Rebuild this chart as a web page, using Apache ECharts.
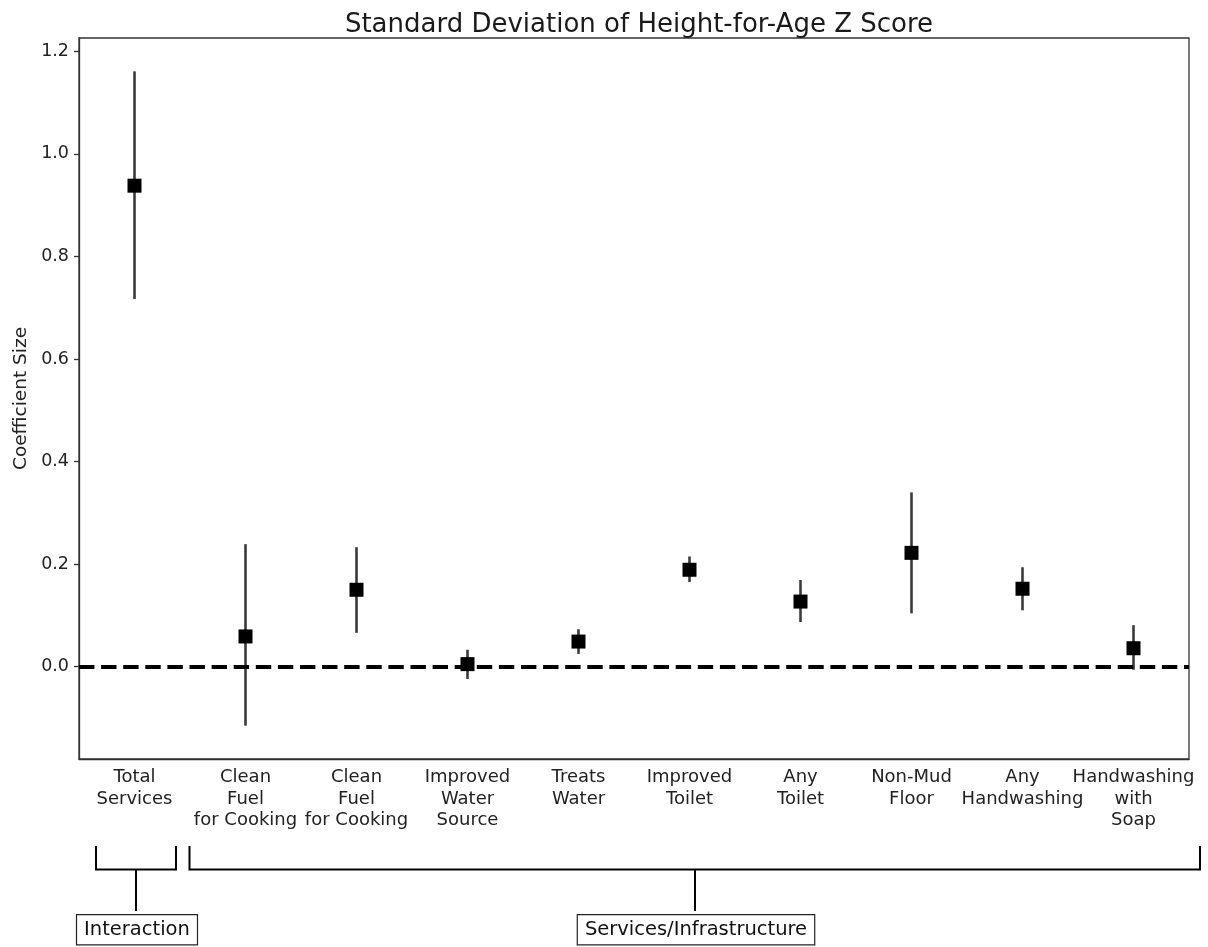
<!DOCTYPE html>
<html>
<head>
<meta charset="utf-8">
<script src="https://cdn.jsdelivr.net/npm/echarts@6/dist/echarts.min.js"></script>
<style>html,body{margin:0;padding:0;background:#fff;}#c{width:1208px;height:947px;}</style>
</head>
<body>
<div id="c"></div>
<script>
// ---- data ----
const categories = ['Total\nServices', 'Clean\nFuel\nfor Cooking', 'Clean\nFuel\nfor Cooking', 'Improved\nWater\nSource', 'Treats\nWater', 'Improved\nToilet', 'Any\nToilet', 'Non-Mud\nFloor', 'Any\nHandwashing', 'Handwashing\nwith\nSoap'];
const coef  = [0.938, 0.059, 0.150, 0.005, 0.049, 0.189, 0.127, 0.222, 0.152, 0.036];
const lower = [0.717, -0.115, 0.066, -0.024, 0.025, 0.165, 0.087, 0.104, 0.110, -0.006];
const upper = [1.161, 0.239, 0.233, 0.033, 0.073, 0.215, 0.169, 0.340, 0.194, 0.081];
const yTicks = [0.0, 0.2, 0.4, 0.6, 0.8, 1.0, 1.2];
const groupLabels = ['Interaction', 'Services/Infrastructure'];

const FONT = 'DejaVu Sans';
const chart = echarts.init(document.getElementById('c'), null, {renderer: 'canvas'});

const option = {
  animation: false,
  backgroundColor: '#fff',
  textStyle: {fontFamily: FONT},
  title: {
    text: 'Standard Deviation of Height-for-Age Z Score',
    left: 634, top: 7, textAlign: 'center',
    textStyle: {fontFamily: FONT, fontSize: 26, fontWeight: 'normal', color: '#1a1a1a'}
  },
  grid: {left: 79, right: 19, top: 38, bottom: 188, show: true, borderColor: '#333', borderWidth: 1.3, containLabel: false},
  xAxis: {
    type: 'category', data: categories, boundaryGap: true,
    axisLine: {show: true, onZero: false, lineStyle: {color: '#333', width: 1.3}},
    axisTick: {show: false},
    axisLabel: {interval: 0, margin: 8, fontFamily: FONT, fontSize: 18, lineHeight: 21.5, color: '#222', align: 'center'},
    splitLine: {show: false}
  },
  yAxis: {
    type: 'value', min: -0.18, max: 1.226,
    name: 'Coefficient Size', nameLocation: 'middle', nameGap: 47, nameRotate: 90,
    nameTextStyle: {fontFamily: FONT, fontSize: 18.5, color: '#222'},
    axisLine: {show: true, onZero: false, lineStyle: {color: '#333', width: 1.3}},
    axisTick: {show: true, length: 5, customValues: yTicks, lineStyle: {color: '#333', width: 1.3}},
    axisLabel: {margin: 10, customValues: yTicks, fontFamily: FONT, fontSize: 17.5, color: '#222', formatter: v => v.toFixed(1)},
    splitLine: {show: false}
  },
  series: [
    {
      type: 'custom', z: 2,
      data: categories.map((c, i) => [i, lower[i], upper[i]]),
      encode: {x: 0, y: [1, 2]},
      renderItem: function (params, api) {
        const i = api.value(0);
        const lo = api.coord([i, api.value(1)]);
        const hi = api.coord([i, api.value(2)]);
        return {type: 'line', shape: {x1: lo[0], y1: lo[1], x2: hi[0], y2: hi[1]}, style: {stroke: '#3a3a3a', lineWidth: 2.6}};
      },
      markLine: {
        silent: true, symbol: 'none', label: {show: false}, z: 3,
        lineStyle: {color: '#000', width: 4, type: [15.4, 6.7], opacity: 1},
        data: [{yAxis: 0}]
      }
    },
    {
      type: 'scatter', z: 5, symbol: 'rect', symbolSize: 14,
      itemStyle: {color: '#000', opacity: 1},
      data: coef
    }
  ]
};
chart.setOption(option);

// ---- group brackets below the axis (layout annotations) ----
const stroke = {stroke: '#000', lineWidth: 2};
function bracket(x1, x2, stemX) {
  return [
    {type: 'polyline', shape: {points: [[x1, 846], [x1, 869.5], [x2, 869.5], [x2, 846]]}, style: Object.assign({fill: null}, stroke)},
    {type: 'line', shape: {x1: stemX, y1: 869.5, x2: stemX, y2: 911}, style: stroke}
  ];
}
function boxLabel(text, cx) {
  return {
    type: 'text', x: cx, y: 929.7,
    style: {text: text, fontFamily: FONT, fontSize: 19.5, fill: '#111', align: 'center', verticalAlign: 'middle',
      borderColor: '#222', borderWidth: 1.2, padding: [5, 7, 4, 7], backgroundColor: '#fff'}
  };
}
chart.setOption({
  graphic: [].concat(
    bracket(96, 176, 136),
    bracket(189.5, 1200, 695),
    [boxLabel(groupLabels[0], 137), boxLabel(groupLabels[1], 696)]
  )
});
</script>
</body>
</html>
